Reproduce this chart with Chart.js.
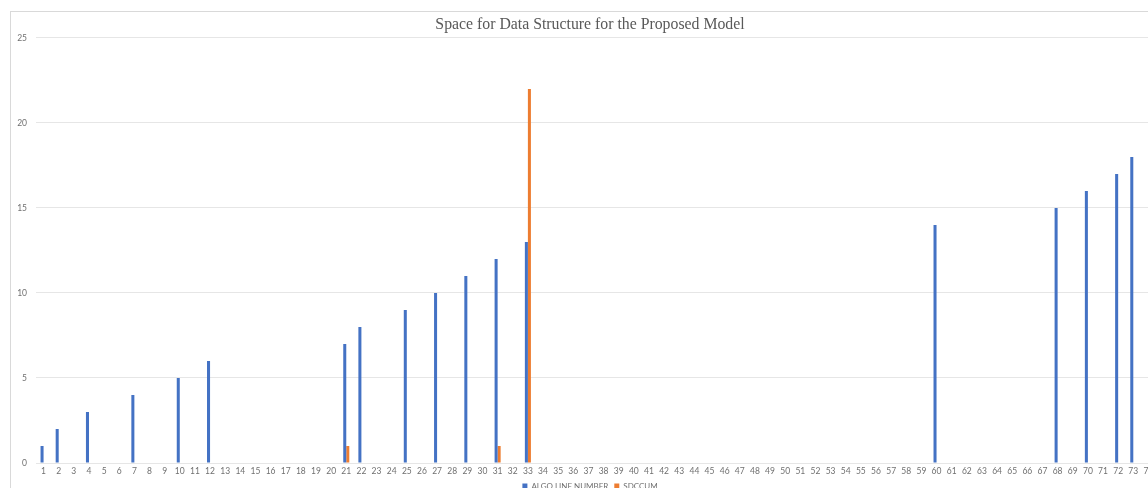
<!DOCTYPE html>
<html>
<head>
<meta charset="utf-8">
<title>Space for Data Structure for the Proposed Model</title>
<script src="https://cdn.jsdelivr.net/npm/chart.js@4/dist/chart.umd.min.js"></script>
<style>
  html, body { margin: 0; padding: 0; background: #fff; overflow: hidden; }
  .chart-box {
    position: absolute;
    left: 10px;
    top: 11px;
    width: 1158px;
    height: 488px;
    border: 1px solid #d9d9d9;
  }
</style>
</head>
<body>
<div class="chart-box">
  <canvas id="chart"></canvas>
</div>
<script>
// x categories (line numbers of the algorithm)
const categories = [
  '1', '2', '3', '4', '5', '6', '7', '8', '9', '10',
  '11', '12', '13', '14', '15', '16', '17', '18', '19', '20',
  '21', '22', '23', '24', '25', '26', '27', '28', '29', '30',
  '31', '32', '33', '34', '35', '36', '37', '38', '39', '40',
  '41', '42', '43', '44', '45', '46', '47', '48', '49', '50',
  '51', '52', '53', '54', '55', '56', '57', '58', '59', '60',
  '61', '62', '63', '64', '65', '66', '67', '68', '69', '70',
  '71', '72', '73', '74'
]

// ALGO LINE NUMBER (blue), blank cells left as null
const algoLineNumber = [
  1, 2, null, 3, null, null, 4, null, null, 5,
  null, 6, null, null, null, null, null, null, null, null,
  7, 8, null, null, 9, null, 10, null, 11, null,
  12, null, 13, null, null, null, null, null, null, null,
  null, null, null, null, null, null, null, null, null, null,
  null, null, null, null, null, null, null, null, null, 14,
  null, null, null, null, null, null, null, 15, null, 16,
  null, 17, 18, null
]

// SDCCUM (orange)
const sdccum = [
  null, null, null, null, null, null, null, null, null, null,
  null, null, null, null, null, null, null, null, null, null,
  1, null, null, null, null, null, null, null, null, null,
  1, null, 22, null, null, null, null, null, null, null,
  null, null, null, null, null, null, null, null, null, null,
  null, null, null, null, null, null, null, null, null, null,
  null, null, null, null, null, null, null, null, null, null,
  null, null, null, null
]

const yTicks = [0, 5, 10, 15, 20, 25]

const tickColor = '#707070'
const gridColor = '#e6e6e6'

new Chart(document.getElementById('chart'), {
  type: 'bar',
  data: {
    labels: categories,
    datasets: [
      {
        label: 'ALGO LINE NUMBER',
        data: algoLineNumber,
        backgroundColor: '#4472C4',
        borderWidth: 0,
        categoryPercentage: 0.4,
        barPercentage: 1.0
      },
      {
        label: 'SDCCUM',
        data: sdccum,
        backgroundColor: '#ED7D31',
        borderWidth: 0,
        categoryPercentage: 0.4,
        barPercentage: 1.0
      }
    ]
  },
  options: {
    responsive: true,
    maintainAspectRatio: false,
    animation: false,
    layout: {
      padding: 0
    },
    plugins: {
      title: {
        display: true,
        text: 'Space for Data Structure for the Proposed Model',
        color: '#595959',
        font: { family: '"Liberation Serif", "DejaVu Serif", serif', size: 15.8, weight: 'normal' },
        padding: { top: 3, bottom: 4 }
      },
      legend: {
        position: 'bottom',
        labels: {
          color: tickColor,
          boxWidth: 5,
          boxHeight: 5,
          padding: 6,
          font: { family: 'Lato, "Open Sans", sans-serif', size: 8 }
        }
      },
      tooltip: { enabled: false }
    },
    scales: {
      x: {
        grid: { display: false, drawTicks: false },
        border: { display: true, color: gridColor },
        ticks: {
          color: tickColor,
          autoSkip: false,
          maxRotation: 0,
          padding: 3,
          font: { family: 'Lato, "Open Sans", sans-serif', size: 8.5 }
        },
        afterFit: (scale) => { scale.height = 13 }
      },
      y: {
        min: 0,
        max: 25,
        afterBuildTicks: (scale) => { scale.ticks = yTicks.map(v => ({ value: v })) },
        grid: { color: gridColor, drawTicks: false },
        border: { display: false },
        ticks: {
          color: tickColor,
          padding: 9,
          font: { family: 'Lato, "Open Sans", sans-serif', size: 8.5 }
        },
        afterFit: (scale) => { scale.width = 25 }
      },
      // empty right-hand margin so the title and legend stay centred on the whole box
      yRight: {
        position: 'right',
        min: 0,
        max: 25,
        grid: { display: false, drawTicks: false },
        border: { display: false },
        ticks: { display: false },
        afterFit: (scale) => { scale.width = 13 }
      }
    }
  }
})
</script>
</body>
</html>
